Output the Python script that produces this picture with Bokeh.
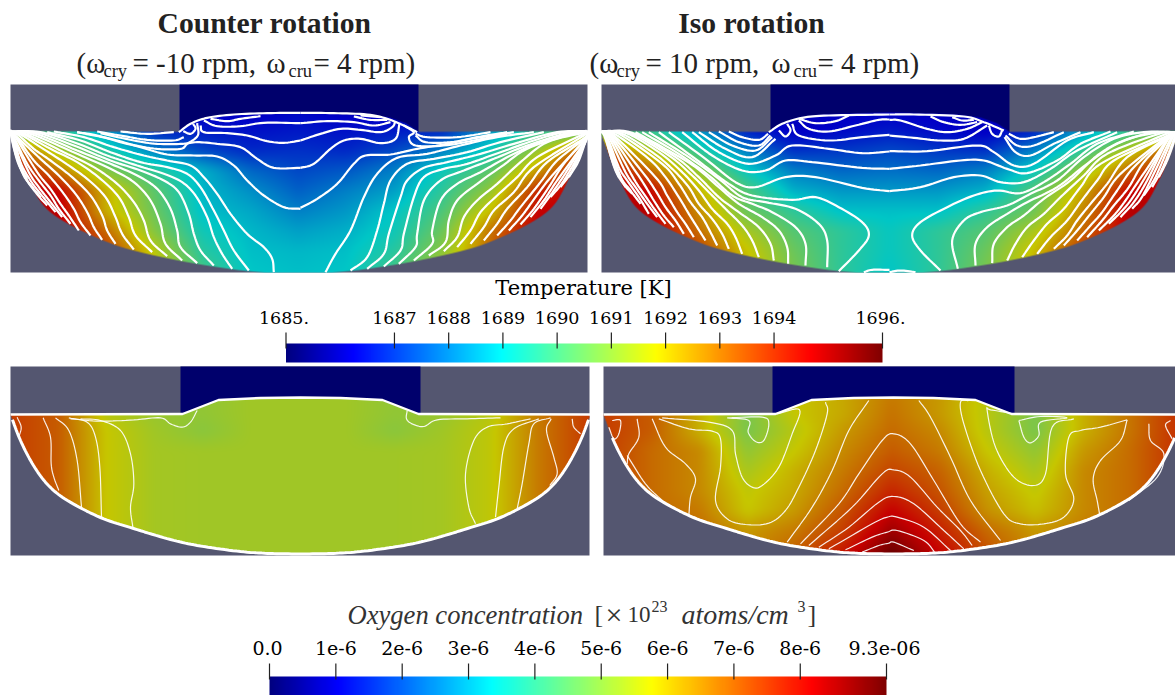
import numpy as np
from bokeh.plotting import figure
from bokeh.models import Range1d
from bokeh.core.properties import value
from bokeh.embed import file_html
from bokeh.resources import INLINE

# ---------- colour-scale readings (fraction of the colour bar) ----------
T_LOW, T_HIGH = 1685.0, 1696.0
O_LOW, O_HIGH = 0.0, 9.3e-6
T_TICKS = [1685, 1687, 1688, 1689, 1690, 1691, 1692, 1693, 1694, 1696]
T_LABELS = ["1685.", "1687", "1688", "1689", "1690", "1691", "1692", "1693", "1694", "1696."]
O_TICKS = [0, 1e-6, 2e-6, 3e-6, 4e-6, 5e-6, 6e-6, 7e-6, 8e-6, 9.3e-6]
O_LABELS = ["0.0", "1e-6", "2e-6", "3e-6", "4e-6", "5e-6", "6e-6", "7e-6", "8e-6", "9.3e-06"]

ROWS_T = [112, 130, 150, 170, 190, 210, 230, 250, 272]
ROWS_O = [396, 414, 430, 450, 470, 490, 510, 530, 555]

T_COUNTER = [
 [.45,.40,.30,.14,.10,.10,.12,.10,.10,.14,.30,.40,.45],
 [.45,.42,.30,.16,.14,.13,.14,.13,.14,.16,.30,.42,.45],
 [.80,.58,.40,.27,.20,.16,.17,.16,.20,.27,.38,.56,.80],
 [.90,.72,.53,.42,.33,.24,.20,.22,.27,.38,.48,.68,.90],
 [.90,.88,.65,.48,.34,.29,.23,.27,.31,.42,.55,.84,.90],
 [.90,.90,.65,.50,.35,.32,.27,.30,.36,.46,.63,.88,.90],
 [.95,.90,.74,.53,.38,.34,.31,.33,.38,.50,.73,.90,.95],
 [.95,.90,.80,.60,.41,.35,.34,.35,.41,.54,.75,.90,.95],
 [.95,.90,.80,.65,.45,.36,.35,.36,.45,.60,.80,.90,.95],
]
T_ISO = [
 [.45,.40,.30,.14,.10,.10,.11,.10,.10,.14,.30,.40,.45],
 [.45,.42,.30,.15,.10,.12,.14,.12,.10,.15,.30,.42,.45],
 [.80,.60,.42,.27,.17,.18,.20,.18,.17,.27,.42,.60,.80],
 [.90,.75,.55,.37,.27,.24,.25,.24,.27,.37,.55,.75,.90],
 [.90,.88,.65,.47,.33,.30,.30,.30,.33,.47,.65,.88,.90],
 [.90,.90,.70,.50,.42,.35,.35,.35,.42,.50,.70,.90,.90],
 [.95,.90,.74,.58,.47,.42,.37,.42,.47,.58,.74,.90,.95],
 [.95,.90,.80,.63,.50,.42,.37,.42,.50,.63,.80,.90,.95],
 [.95,.90,.82,.65,.52,.42,.36,.42,.52,.65,.82,.90,.95],
]
O_COUNTER = [
 [.80,.76,.60,.56,.55,.57,.57,.57,.55,.56,.60,.72,.80],
 [.80,.76,.60,.56,.55,.57,.57,.57,.55,.56,.60,.72,.80],
 [.80,.76,.62,.57,.54,.57,.57,.57,.54,.57,.61,.72,.80],
 [.80,.76,.62,.575,.57,.57,.57,.57,.57,.575,.61,.72,.80],
 [.80,.76,.62,.575,.57,.57,.57,.57,.57,.575,.61,.72,.80],
 [.80,.76,.62,.575,.57,.57,.57,.57,.57,.575,.61,.72,.80],
 [.80,.76,.62,.575,.57,.57,.57,.57,.57,.575,.61,.72,.80],
 [.80,.76,.62,.575,.57,.57,.57,.57,.57,.575,.61,.72,.80],
 [.80,.76,.62,.575,.57,.57,.57,.57,.57,.575,.61,.72,.80],
]
O_ISO = [
 [.80,.76,.65,.52,.62,.66,.72,.68,.60,.52,.65,.73,.82],
 [.80,.76,.65,.52,.62,.66,.73,.68,.60,.52,.65,.73,.82],
 [.80,.76,.65,.52,.60,.68,.74,.70,.60,.52,.65,.73,.82],
 [.80,.74,.70,.55,.62,.70,.76,.72,.62,.55,.68,.74,.82],
 [.80,.74,.70,.58,.65,.72,.79,.75,.65,.58,.70,.74,.82],
 [.80,.74,.70,.61,.66,.74,.83,.77,.67,.61,.70,.74,.82],
 [.80,.74,.72,.62,.68,.77,.88,.80,.69,.63,.70,.74,.82],
 [.80,.74,.74,.68,.72,.80,.93,.84,.74,.68,.72,.74,.82],
 [.80,.74,.74,.70,.76,.86,1.0,.88,.78,.70,.72,.74,.82],
]

# ---------- vessel outline: distance from the axis -> height in the picture ----------
BOTTOM_R_T = [0, 25, 45, 68, 115, 165, 195, 231, 255, 271, 281, 289]
BOTTOM_Y_T = [273, 272.5, 271, 268.5, 261, 250, 240, 223, 205, 177, 153, 131]
SURF_R_T = [0, 31, 65, 91, 108, 120, 289]
SURF_Y_T = [112, 113, 114, 117, 123, 131.5, 130.5]
BOTTOM_R_O = [0, 30, 60, 100, 130, 167, 200, 233, 252, 267, 280, 290]
BOTTOM_Y_O = [553.5, 553, 551, 545.5, 539, 528, 517, 500, 485, 465, 440, 414]
SURF_R_O = [0, 40, 82, 118, 290]
SURF_Y_O = [397, 397.5, 399.5, 413.5, 414]

# ---------- isotherms traced on the enlarged picture (3x coordinates) ----------
C_TL = [
 [(535,155),(570,130),(620,112),(700,102),(800,98),(900,97)],
 [(630,115),(680,122),(720,115),(780,107)],
 [(610,120),(650,137),(720,137),(790,127),(900,128)],
 [(600,135),(610,155),(680,158),(740,165),(800,182),(850,187),(900,180)],
 [(548,152),(570,160),(585,145),(578,130)],
 [(590,128),(592,165),(560,190),(540,205),(470,205),(380,190),(290,165),(230,155)],
 [(900,262),(820,262),(770,235),(720,200),(650,190),(590,185),(545,190),(470,190),(400,180),(300,158)],
 [(900,385),(850,380),(790,345),(740,300),(700,255),(650,228),(580,225),(500,222),(420,200),(330,175),(230,155)],
 [(820,575),(815,535),(790,500),(740,460),(690,400),(650,340),(610,290),(570,255),(500,240),(430,225),(340,200),(250,170),(160,153)],
 [(745,570),(700,510),(670,450),(640,390),(600,320),(560,280),(500,260),(420,245),(330,215),(240,180),(140,155)],
 [(695,565),(665,520),(640,470),(620,410),(585,345),(545,305),(490,280),(410,255),(320,225),(220,185),(120,155)],
 [(640,555),(600,510),(580,460),(565,400),(535,335),(490,300),(420,270),(330,240),(220,195),(105,155)],
 [(590,548),(540,500),(530,450),(510,385),(470,325),(410,285),(330,250),(230,210),(100,158)],
 [(545,540),(495,490),(480,430),(450,360),(400,305),(330,265),(230,220),(90,160)],
 [(500,527),(450,480),(430,420),(400,365),(350,310),(280,260),(190,215),(80,162)],
 [(455,515),(405,465),(385,410),(355,350),(300,295),(230,245),(150,205),(72,163)],
 [(400,507),(365,460),(345,410),(315,350),(260,295),(190,245),(120,200),(62,163)],
 [(345,490),(320,450),(305,405),(270,345),(215,290),(150,240),(100,205),(55,165)],
 [(305,478),(280,440),(260,395),(225,340),(175,285),(120,235),(50,170)],
 [(270,465),(240,425),(220,385),(190,340),(145,285),(100,240),(50,172)],
 [(235,450),(205,405),(180,370),(150,325),(110,275),(45,170)],
 [(210,430),(175,385),(150,345),(115,300),(80,250),(40,170)],
 [(185,410),(150,365),(115,320),(85,275),(40,175)],
 [(165,395),(120,340),(90,300),(60,245),(38,165)],
 [(140,375),(105,335),(70,280),(35,165)],
 [(120,350),(80,300),(50,240),(32,160)],
 [(100,325),(65,275),(35,160)],
 [(80,295),(55,250),(33,158)],
 [(62,265),(42,210),(30,156)],
 [(550,170),(520,180),(440,178),(360,165),(290,153)],
 [(520,155),(440,160),(360,153)],
]
C_TR = [
 [(0,97),(100,98),(200,102),(260,115),(310,135),(350,155)],
 [(0,128),(80,122),(160,125),(220,135),(270,125)],
 [(160,108),(210,118),(260,118)],
 [(180,105),(240,110)],
 [(0,180),(60,160),(120,145),(180,148),(240,155),(275,140),(285,122)],
 [(0,262),(40,250),(90,205),(130,180),(180,175),(240,188),(285,175),(297,130)],
 [(310,135),(340,155),(325,170),(345,195),(430,195),(520,180),(620,160)],
 [(0,382),(50,355),(110,310),(160,250),(195,225),(270,222),(350,205),(440,190),(530,170),(620,155)],
 [(75,575),(105,520),(150,450),(190,350),(230,280),(290,232),(380,220),(480,195),(590,170),(700,155)],
 [(150,570),(200,530),(230,450),(250,370),(270,300),(320,250),(400,235),(500,215),(600,185),(730,155)],
 [(200,565),(250,520),(265,460),(300,350),(320,300),(370,262),(440,245),(540,220),(640,190),(770,155)],
 [(250,558),(300,510),(310,460),(340,350),(370,290),(430,265),(500,250),(600,215),(700,180),(790,155)],
 [(295,550),(345,500),(350,460),(370,360),(420,300),(490,270),(580,235),(680,195),(810,155)],
 [(340,540),(395,490),(395,450),(420,360),(470,310),(540,275),(630,225),(730,180),(830,155)],
 [(385,525),(435,485),(445,420),(470,360),(530,310),(600,260),(690,200),(840,155)],
 [(430,512),(470,470),(490,410),(530,360),(590,310),(660,245),(740,185),(850,157)],
 [(470,500),(510,450),(540,395),(590,345),(650,290),(710,230),(850,160)],
 [(510,490),(550,440),(580,390),(640,335),(700,260),(850,165)],
 [(550,480),(590,430),(620,385),(680,320),(740,245),(855,170)],
 [(590,465),(630,420),(660,380),(720,305),(770,240),(855,172)],
 [(625,450),(665,405),(705,350),(755,285),(855,175)],
 [(660,432),(700,385),(745,320),(790,250),(855,175)],
 [(690,410),(730,360),(770,300),(855,180)],
 [(720,385),(760,330),(800,270),(855,180)],
 [(750,350),(790,300),(855,185)],
 [(780,320),(815,270),(858,175)],
 [(805,290),(835,240),(858,170)],
 [(345,165),(375,185),(450,185),(540,170),(640,155)],
 [(345,160),(380,170),(470,170),(570,155)],
]
C_IL = [
 [(520,155),(560,130),(620,112),(700,105),(900,102)],
 [(610,115),(660,128),(720,122),(760,105)],
 [(610,120),(640,145),(700,153),(780,135),(850,118),(900,117)],
 [(590,130),(610,165),(700,180),(800,170),(900,163)],
 [(550,150),(570,168),(585,150),(575,130)],
 [(400,153),(440,170),(490,178),(518,160)],
 [(370,153),(430,185),(490,195),(525,165)],
 [(340,155),(410,195),(480,210),(530,170)],
 [(310,155),(390,205),(470,230),(540,175)],
 [(290,155),(370,215),(460,250),(540,225),(590,195),(700,205),(800,218),(900,213)],
 [(260,155),(350,225),(440,270),(510,270),(570,240),(650,245),(800,262),(900,265)],
 [(220,155),(330,235),(420,305),(480,320),(570,290),(660,290),(800,322),(900,332)],
 [(730,572),(790,510),(820,465),(800,425),(730,380),(660,350),(590,358),(470,345),(400,310),(300,235),(190,155)],
 [(695,560),(695,480),(670,430),(600,385),(510,365),(440,350),(370,295),(280,230),(160,155)],
 [(630,555),(630,490),(600,440),(530,395),(470,370),(410,345),(340,285),(250,220),(140,155)],
 [(578,550),(575,500),(550,450),(500,410),(430,370),(370,320),(300,260),(210,205),(120,155)],
 [(535,540),(525,490),(490,440),(430,395),(370,350),(310,290),(240,230),(110,157)],
 [(490,530),(470,480),(440,435),(390,385),(345,340),(290,285),(220,225),(100,157)],
 [(440,520),(420,470),(395,430),(350,385),(310,330),(260,275),(190,215),(90,157)],
 [(400,505),(380,460),(350,415),(310,370),(280,320),(230,265),(170,215),(80,160)],
 [(365,495),(345,455),(320,410),(285,365),(250,310),(200,250),(70,160)],
 [(330,480),(305,440),(280,400),(250,350),(210,290),(160,235),(60,162)],
 [(295,470),(270,430),(245,395),(215,345),(180,290),(55,165)],
 [(265,460),(240,420),(210,380),(180,330),(145,280),(50,165)],
 [(235,440),(205,405),(175,360),(145,310),(115,265),(45,165)],
 [(210,430),(180,390),(145,340),(115,295),(45,170)],
 [(185,410),(155,370),(120,320),(90,275),(40,170)],
 [(160,400),(130,350),(95,300),(70,260),(35,170)],
 [(135,370),(105,330),(70,280),(32,170)],
 [(110,340),(80,300),(32,170)],
 [(90,320),(60,270),(30,175)],
 [(70,290),(50,240),(28,165)],
 [(805,575),(830,568),(900,568)],
]
C_IR = [
 [(0,102),(100,102),(250,108),(310,125),(370,150)],
 [(150,108),(190,125),(240,133),(290,125)],
 [(215,110),(245,120),(280,118)],
 [(0,118),(60,120),(140,145),(200,155),(260,145),(305,125)],
 [(0,165),(100,172),(180,180),(250,175),(320,135)],
 [(325,135),(335,160),(355,168),(365,150)],
 [(385,160),(420,175),(460,170),(520,155)],
 [(375,165),(410,195),(460,195),(550,155)],
 [(372,170),(405,215),(450,225),(520,190),(600,155)],
 [(0,212),(140,212),(290,195),(340,215),(400,255),(460,250),(560,180),(640,155)],
 [(0,265),(120,255),(240,240),(310,240),(380,265),(440,278),(530,240),(600,190),(690,153)],
 [(0,332),(120,320),(220,290),(300,285),(360,305),(430,305),(510,265),(590,210),(710,155)],
 [(180,570),(120,510),(95,465),(120,425),(200,380),(280,345),(350,330),(420,338),(490,305),(570,250),(650,190),(760,153)],
 [(232,565),(215,480),(250,420),(300,395),(380,375),(450,340),(530,300),(610,230),(700,175),(790,155)],
 [(285,555),(285,490),(320,440),(380,400),(440,365),(530,320),(620,250),(710,190),(810,157)],
 [(335,548),(340,490),(380,440),(430,405),(490,355),(570,300),(650,225),(730,180),(825,157)],
 [(380,540),(405,490),(440,440),(490,400),(540,350),(610,285),(680,220),(835,160)],
 [(425,530),(460,480),(500,430),(550,385),(600,320),(660,250),(845,165)],
 [(470,520),(510,470),(560,420),(600,365),(650,300),(700,240),(850,170)],
 [(520,505),(560,465),(590,420),(630,370),(680,310),(740,230),(855,170)],
 [(550,495),(590,450),(630,400),(670,350),(720,280),(855,172)],
 [(590,480),(630,435),(665,395),(710,330),(760,260),(855,175)],
 [(620,470),(665,420),(700,375),(745,320),(790,245),(860,175)],
 [(655,450),(700,405),(735,360),(775,300),(860,178)],
 [(685,430),(730,385),(770,330),(860,180)],
 [(720,410),(760,365),(800,300),(860,180)],
 [(755,385),(790,340),(865,185)],
 [(790,345),(825,290),(870,185)],
 [(815,320),(845,265),(875,190)],
 [(835,290),(860,240),(880,185)],
 [(0,575),(60,570),(105,575)],
]
# ---------- oxygen iso-lines ----------
O_CL = [
 [(210,175),(300,182),(400,178),(480,172),(510,190),(545,200),(570,185),(590,150)],
 [(205,172),(260,185),(285,230),(298,320),(303,470)],
 [(165,172),(205,210),(230,300),(243,440)],
 [(128,172),(150,230),(152,310),(160,350),(175,390)],
 [(240,175),(300,180),(360,210),(390,280),(400,370),(390,440),(397,500)],
 [(50,170),(62,200),(55,230)],
]
O_CR = [
 [(320,150),(318,175),(335,190),(370,198),(410,178),(500,175),(600,172)],
 [(690,175),(620,190),(560,200),(520,240),(495,340),(505,440),(525,490)],
 [(715,175),(640,205),(610,260),(595,380),(585,470)],
 [(750,172),(700,190),(685,250),(665,370),(650,445)],
 [(752,175),(738,210),(760,290),(770,340),(748,375)],
 [(815,175),(820,200),(840,220)],
]
O_IL = [
 [(395,172),(460,180),(458,215),(480,243),(505,240),(520,190),(500,170),(395,172)],
 [(545,160),(612,148),(590,220),(550,320),(500,375),(470,380),(440,350),(420,280),(410,210),(340,185),(200,172)],
 [(690,125),(695,160),(660,270),(610,380),(570,450),(520,488),(450,492),(395,475),(360,420),(375,320),(375,235),(350,212),(280,205),(190,175)],
 [(820,120),(760,210),(710,330),(650,440),(575,545)],
 [(170,175),(210,260),(270,310),(300,355),(285,410),(280,465)],
 [(125,175),(130,230),(100,280),(95,310)],
 [(95,285),(150,370),(200,420)],
 [(50,180),(75,180),(70,220),(55,235),(40,200)],
]
O_IR = [
 [(115,120),(150,170),(210,290),(270,420),(360,540)],
 [(265,120),(240,125),(250,190),(300,330),(370,460),(420,490),(490,490),(550,470),(580,415),(555,340),(565,230),(600,210),(660,200),(740,178)],
 [(400,160),(330,148),(320,150),(345,260),(400,350),(460,375),(495,340),(515,200),(580,175)],
 [(415,180),(430,230),(450,247),(475,225),(480,185),(560,172),(480,168),(415,180)],
 [(740,178),(720,240),(660,300),(638,355),(650,420),(658,465)],
 [(805,190),(810,240),(850,280),(830,350),(745,420)],
 [(870,180),(855,195),(875,235)],
]
# humps over the hot core: left part, then right part of the same iso-line
O_HUMP_L = [
 [(615,550),(730,430),(790,340),(860,240)],
 [(640,555),(770,440),(860,340)],
 [(670,560),(760,500),(850,425)],
 [(700,565),(830,490),(875,470)],
 [(750,568),(830,530),(875,515)],
 [(800,575),(850,555),(880,548)],
]
O_HUMP_R = [
 [(40,220),(90,250),(160,360),(240,490),(300,545)],
 [(40,328),(90,350),(170,440),(240,510),(275,555)],
 [(40,408),(100,430),(190,510),(250,565)],
 [(50,470),(130,500),(210,570)],
 [(50,510),(130,540),(165,578)],
 [(40,545),(100,570)],
]

W, H = 1175, 695
GREY = "#545670"
NAVY = "#00006c"

def jet(t):
    t = np.clip(t, 0, 1)
    xs = [0, .11, .36, .62, .88, 1]
    return (np.interp(t, xs, [0, 0, 0, 1, 1, .5]),
            np.interp(t, xs, [0, 0, 1, 1, 0, 0]),
            np.interp(t, xs, [.5, 1, 1, 0, 0, 0]))

def smooth(points, n=8):
    a = np.array(points, float)
    if len(a) < 3:
        return a
    b = np.vstack([2*a[0]-a[1], a, 2*a[-1]-a[-2]])
    out = []
    for i in range(1, len(b)-2):
        p0, p1, p2, p3 = b[i-1], b[i], b[i+1], b[i+2]
        for u in np.linspace(0, 1, n, endpoint=False):
            out.append(.5*((2*p1)+(-p0+p2)*u+(2*p0-5*p1+4*p2-p3)*u**2+(-p0+3*p1-3*p2+p3)*u**3))
    out.append(a[-1])
    return np.array(out)

def blur(a, k):
    ker = np.ones(k)/k
    pad = k//2
    for axis in (0, 1):
        a = np.apply_along_axis(lambda v: np.convolve(np.pad(v, pad, mode="edge"), ker, mode="valid"), axis, a)
    return a

p = figure(width=W, height=H, x_range=Range1d(0, W), y_range=Range1d(0, H),
           output_backend="svg", toolbar_location=None, min_border=0,
           styles={"position": "absolute", "left": "0px", "top": "0px"})
p.axis.visible = False
p.grid.visible = False
p.outline_line_color = None
p.background_fill_color = "white"

def Y(py):
    return H - np.asarray(py, float)

def panel(x0, x1, top, bot, cx, c0, c1, rows, grid, rb, yb, rs, ys, surf_y):
    p.quad(left=[x0], right=[x1], top=[Y(top)], bottom=[Y(bot)], fill_color=GREY, line_color=None)
    p.quad(left=[c0], right=[c1], top=[Y(top)], bottom=[Y(surf_y)], fill_color=NAVY, line_color=None)
    xs = np.arange(x0, x1)
    ys_px = np.arange(top, bot)
    cols = x0 + 48*np.arange(13)
    g = np.array(grid, float)
    tmp = np.array([np.interp(xs+.5, cols, row) for row in g])
    f = np.array([np.interp(ys_px+.5, rows, tmp[:, j]) for j in range(tmp.shape[1])]).T
    f = blur(f, 11)
    r = np.abs(xs+.5-cx)
    sb = smooth(list(zip(rb, yb)), 10)
    bottom = np.interp(r, sb[:, 0], sb[:, 1])
    surf = np.interp(r, rs, ys)
    yy = ys_px[:, None]+.5
    a = np.clip(yy-surf[None, :]+.5, 0, 1)*np.clip(bottom[None, :]-yy+.5, 0, 1)
    cr, cg, cb = jet(f)
    img = np.dstack([cr*.78, cg*.78, cb*.78, a])
    rgba = (img*255).astype(np.uint8)
    packed = rgba.view(dtype=np.uint32).reshape(rgba.shape[:2])[::-1]
    p.image_rgba(image=[packed], x=[x0], y=[Y(bot)], dw=[x1-x0], dh=[bot-top])
    return sb

def lines(traces, ox, oy, width, alpha=1.0, corner=None, lo=None, hi=None):
    xs, ys = [], []
    for tr in traces:
        tr = list(tr)
        if lo is not None:
            tr = [(max(a, lo), b) for a, b in tr]
        if hi is not None:
            tr = [(min(a, hi), b) for a, b in tr]
        if corner is not None and np.hypot(tr[-1][0]-corner[0], tr[-1][1]-corner[1]) < 100:
            tr.append(corner)
        s = smooth(tr)
        xs.append(ox+s[:, 0]/3)
        ys.append(Y(oy+s[:, 1]/3))
    p.multi_line(xs, ys, line_color="white", line_width=width, line_alpha=alpha)

panel(10, 587, 84, 272, 298, 179, 418, ROWS_T, T_COUNTER, BOTTOM_R_T, BOTTOM_Y_T, SURF_R_T, SURF_Y_T, 132)
panel(601, 1175, 84, 272, 889, 770, 1009, ROWS_T, T_ISO, BOTTOM_R_T, BOTTOM_Y_T, SURF_R_T, SURF_Y_T, 132)
lines(C_TL, 0, 80, 2.2, corner=(30, 153))
lines(C_TR, 300, 80, 2.2, corner=(858, 153))
lines(C_IL, 595, 80, 2.2, corner=(18, 153), hi=882)
lines(C_IR, 880, 80, 2.2, corner=(885, 155), lo=27)

sb3 = panel(10, 589, 366, 555, 300, 180, 420, ROWS_O, O_COUNTER, BOTTOM_R_O, BOTTOM_Y_O, SURF_R_O, SURF_Y_O, 414)
sb4 = panel(603, 1175, 366, 555, 893, 772, 1014, ROWS_O, O_ISO, BOTTOM_R_O, BOTTOM_Y_O, SURF_R_O, SURF_Y_O, 414)
lines(O_CL, 0, 360, 1.2, .9)
lines(O_CR, 300, 360, 1.2, .9)
lines(O_IL, 595, 360, 1.2, .9)
lines(O_IR, 880, 360, 1.2, .9)

# one smooth path per hump, through the pieces read on the two enlargements
hx, hy = [], []
for left, right in zip(O_HUMP_L, O_HUMP_R):
    path = [(595+a/3, 360+b/3) for a, b in left] + [(880+a/3, 360+b/3) for a, b in right]
    s = smooth(path)
    hx.append(s[:, 0])
    hy.append(Y(s[:, 1]))
p.multi_line(hx, hy, line_color="white", line_width=1.2, line_alpha=.9)

for cx, xmax in ((300, 289), (893, 282)):
    r = sb3[:, 0]
    keep = r <= xmax
    bx = np.r_[cx-r[keep][::-1], cx+r[keep]]
    by = np.r_[sb3[:, 1][keep][::-1], sb3[:, 1][keep]]
    p.line(bx, Y(by), line_color="white", line_width=3)
    sx = np.r_[[-r_ for r_ in SURF_R_O[::-1]], SURF_R_O[1:]]
    sy = np.r_[SURF_Y_O[::-1], SURF_Y_O[1:]]
    p.line(cx+sx, Y(sy), line_color="white", line_width=2.4)

def colorbar(x0, x1, top, bot, low, high, ticks, labels, tick_top, tick_bot, label_y, size):
    cr, cg, cb = jet(np.linspace(0, 1, 600))
    img = np.zeros((1, 600, 4), dtype=np.uint8)
    img[0, :, 0] = (cr*255).astype(np.uint8)
    img[0, :, 1] = (cg*255).astype(np.uint8)
    img[0, :, 2] = (cb*255).astype(np.uint8)
    img[0, :, 3] = 255
    packed = img.view(dtype=np.uint32).reshape(img.shape[:2])
    p.image_rgba(image=[packed], x=[x0], y=[Y(bot)], dw=[x1-x0], dh=[bot-top])
    tx = [x0+(t-low)/(high-low)*(x1-x0) for t in ticks]
    p.segment(x0=tx, x1=tx, y0=[Y(tick_top)]*len(tx), y1=[Y(tick_bot)]*len(tx), line_color="#222222", line_width=1.2)
    lx = list(tx)
    lx[0] -= 2
    lx[-1] -= 2
    p.text(x=lx, y=[Y(label_y)]*len(tx), text=labels, text_align="center", text_baseline="middle",
           text_font=value("DejaVu Serif"), text_font_size=size, text_color="#000000")

colorbar(285.5, 882, 343, 362, T_LOW, T_HIGH, T_TICKS, T_LABELS, 332, 348, 317, "17.5px")
colorbar(269, 886, 676, 695, O_LOW, O_HIGH, O_TICKS, O_LABELS, 663, 679, 647, "19px")

def txt(x, y, s, font, size, style="normal", color="#222222", align="left", base="middle"):
    p.text(x=[x], y=[Y(y)], text=[s], text_font=value(font), text_font_size=f"{size}px",
           text_font_style=style, text_color=color, text_align=align, text_baseline=base)

SERIF = "Liberation Serif"
txt(264, 22.5, "Counter rotation", SERIF, 29.6, "bold", align="center")
txt(751, 22.5, "Iso rotation", SERIF, 29.6, "bold", align="center")
for x, s, sub in ((76, "(ω", 0), (103, "cry", 1), (132, "= -10 rpm,", 0), (266, "ω", 0), (288, "cru", 1), (313, "= 4 rpm)", 0),
                  (589, "(ω", 0), (616, "cry", 1), (645, "= 10 rpm,", 0), (771, "ω", 0), (793, "cru", 1), (817, "= 4 rpm)", 0)):
    txt(x, 70 if sub else 62, s, SERIF, 18.5 if sub else 29)

txt(583, 287, "Temperature [K]", "DejaVu Serif", 21, color="#000000", align="center")
for x, y, s, size, st in ((347, 614, "Oxygen concentration", 26.6, "italic"), (594, 614, "[", 26, "normal"),
                          (605, 614, "×", 30, "normal"), (627, 614, "10", 23, "normal"), (651, 606, "23", 16, "normal"),
                          (681, 614, "atoms/cm", 28, "italic"), (797, 606, "3", 16, "normal"), (807, 614, "]", 26, "normal")):
    txt(x, y, s, SERIF, size, st, color="#333333")

open("out.html", "w").write(file_html(p, INLINE))
